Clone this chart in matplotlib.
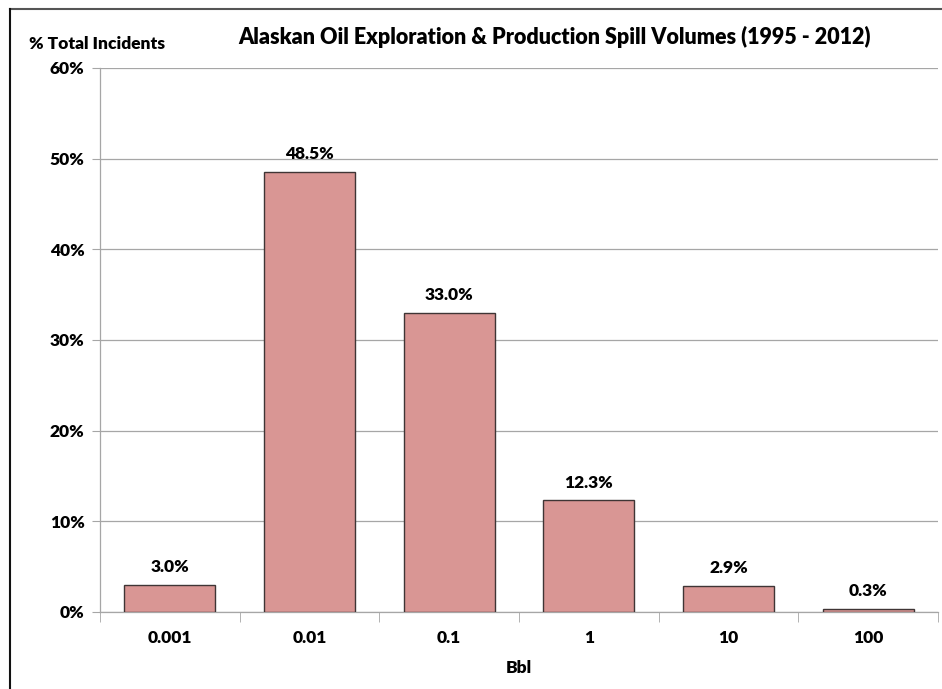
import matplotlib.pyplot as plt
from matplotlib.lines import Line2D
import numpy as np

plt.rcParams['font.family'] = ['Lato', 'DejaVu Sans']
WEIGHT = "heavy"

categories = ["0.001", "0.01", "0.1", "1", "10", "100"]
percent_incidents = [3.0, 48.5, 33.0, 12.3, 2.9, 0.3]
y_ticks = [0, 10, 20, 30, 40, 50, 60]

fig = plt.figure(figsize=(9.42, 6.89), dpi=100)
ax = fig.add_axes([100 / 942, 77 / 689, 838 / 942, 544 / 689])

x = np.arange(len(categories))
ax.bar(x, percent_incidents, width=0.65, color="#D99694",
       edgecolor="#3f3535", linewidth=1.0, zorder=3)

for xi, v in zip(x, percent_incidents):
    ax.text(xi, v + 1.1, f"{v:.1f}%", ha="center", va="bottom",
            fontsize=12.5, fontweight=WEIGHT, zorder=4)

ax.set_xlim(-0.5, len(categories) - 0.5)
ax.set_ylim(0, 60)
ax.set_yticks(y_ticks)
ax.set_yticklabels([f"{t}%" for t in y_ticks], fontsize=12.5, fontweight=WEIGHT)
ax.yaxis.grid(True, color="#a6a6a6", linewidth=0.9, zorder=0)

ax.set_xticks(x)
ax.set_xticklabels(categories, fontsize=12.5, fontweight=WEIGHT)
ax.set_xticks(np.arange(len(categories) + 1) - 0.5, minor=True)
ax.tick_params(axis="x", which="major", length=0, pad=13)
ax.tick_params(axis="x", which="minor", length=7, color="#a6a6a6", direction="out")
ax.tick_params(axis="y", length=6, color="#a6a6a6", direction="out", pad=5)

for side in ("top", "right"):
    ax.spines[side].set_visible(False)
for side in ("left", "bottom"):
    ax.spines[side].set_color("#a6a6a6")
    ax.spines[side].set_linewidth(0.9)

ax.set_xlabel("Bbl", fontsize=12.5, fontweight=WEIGHT, labelpad=10)

fig.text(555 / 942, 1 - 37 / 689, "Alaskan Oil Exploration & Production Spill Volumes (1995 - 2012)",
         ha="center", va="center", fontsize=15.5, fontweight=WEIGHT)
fig.text(97 / 942, 1 - 44 / 689, "% Total Incidents", ha="center", va="center",
         fontsize=12.5, fontweight=WEIGHT)

# outer frame edges
fig.add_artist(Line2D([10 / 942, 1], [1 - 9 / 689, 1 - 9 / 689], color="#555555",
                      linewidth=1.5, transform=fig.transFigure))
fig.add_artist(Line2D([10 / 942, 10 / 942], [0, 1 - 9 / 689], color="#111111",
                      linewidth=1.5, transform=fig.transFigure))

fig.savefig("out.png", dpi=100)
